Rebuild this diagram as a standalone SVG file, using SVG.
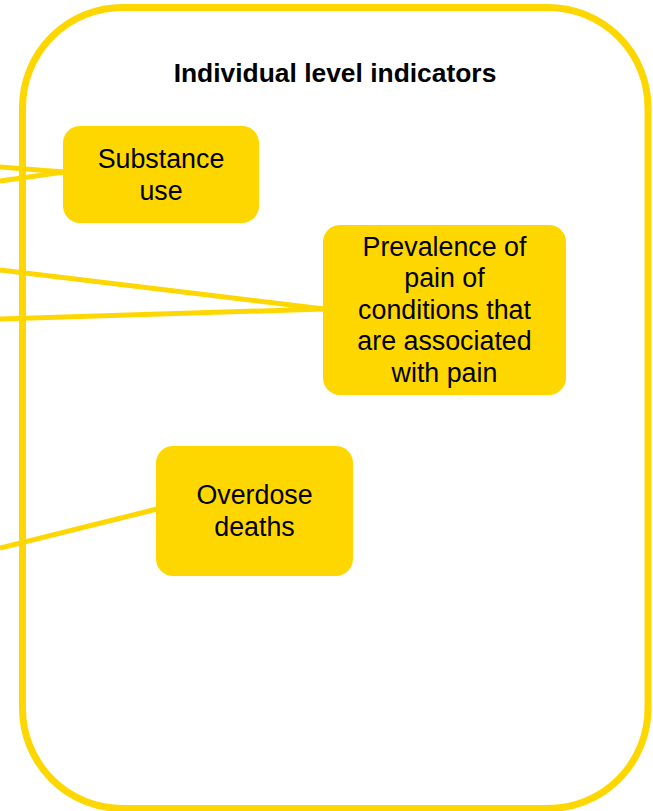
<svg xmlns="http://www.w3.org/2000/svg" width="653" height="811" viewBox="0 0 653 811">
  <style>
    .frame { fill: #FFFFFF; stroke: #FFD700; stroke-width: 7; }
    .node rect { fill: #FFD700; stroke: none; }
    .node text { font-family: "Liberation Sans", Arial, sans-serif; font-size: 26.8px; fill: #000000; text-anchor: middle; }
    .title { font-family: "Liberation Sans", Arial, sans-serif; font-size: 26.4px; font-weight: bold; fill: #000000; text-anchor: middle; }
    .edge { stroke: #FFD700; stroke-width: 5; fill: none; }
  </style>

  <!-- group container -->
  <g id="individual-level">
    <rect class="frame" x="22.5" y="7.5" width="625.5" height="801" rx="100" ry="100"/>
    <text class="title" x="335" y="82">Individual level indicators</text>
  </g>

  <!-- connectors entering from the left -->
  <g id="connectors">
    <line class="edge" x1="0" y1="167" x2="64" y2="172"/>
    <line class="edge" x1="0" y1="181" x2="64" y2="172"/>
    <line class="edge" x1="0" y1="270" x2="324" y2="309"/>
    <line class="edge" x1="0" y1="319" x2="324" y2="309"/>
    <line class="edge" x1="0" y1="548" x2="157" y2="509"/>
  </g>

  <g id="substance-use" class="node">
    <rect x="63" y="126" width="196" height="97" rx="17" ry="17"/>
    <text x="161" y="168">Substance</text>
    <text x="161" y="200">use</text>
  </g>

  <g id="pain-prevalence" class="node">
    <rect x="323" y="225" width="243" height="170" rx="17" ry="17"/>
    <text x="444.5" y="256">Prevalence of</text>
    <text x="444.5" y="287">pain of</text>
    <text x="444.5" y="318.5">conditions that</text>
    <text x="444.5" y="350">are associated</text>
    <text x="444.5" y="381.5">with pain</text>
  </g>

  <g id="overdose-deaths" class="node">
    <rect x="156" y="446" width="197" height="130" rx="17" ry="17"/>
    <text x="254.5" y="504">Overdose</text>
    <text x="254.5" y="536">deaths</text>
  </g>
</svg>
